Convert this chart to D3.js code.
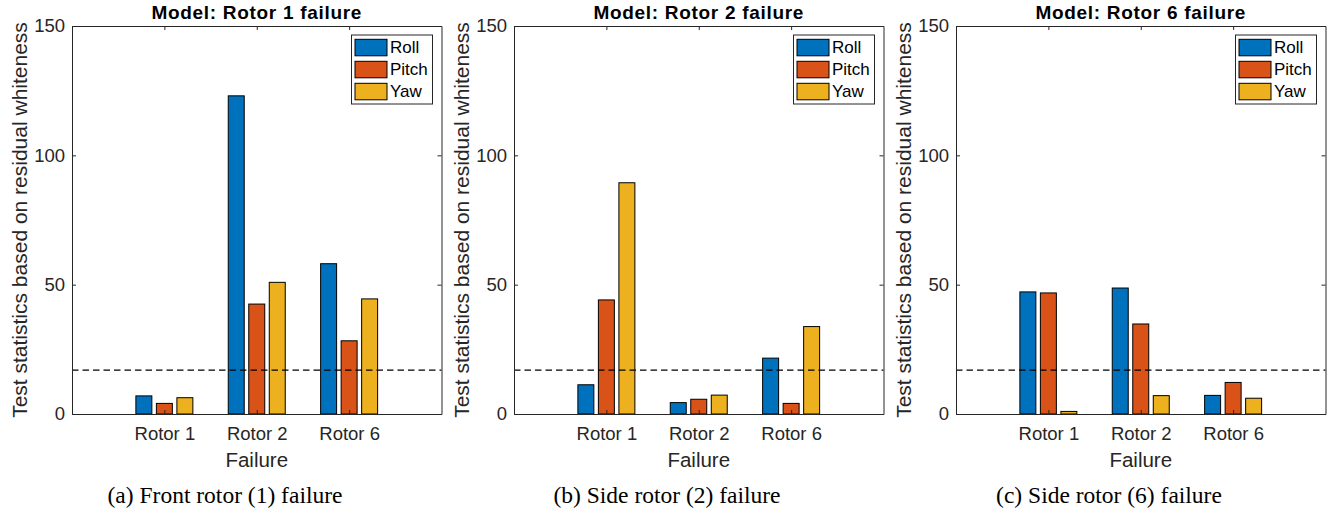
<!DOCTYPE html>
<html>
<head>
<meta charset="utf-8">
<script src="https://cdn.jsdelivr.net/npm/d3@7"></script>
<style>
  html, body { margin: 0; padding: 0; background: #fff; }
  svg { display: block; }
</style>
</head>
<body>
<svg id="fig" width="1337" height="513"></svg>
<script>
// Failure cases on the x axis and the three test channels
const categories = ["Rotor 1", "Rotor 2", "Rotor 6"];
const seriesNames = ["Roll", "Pitch", "Yaw"];
const seriesColors = ["#0072BD", "#D95319", "#EDB120"];

// Test statistics per model: rows = failure case, columns = Roll, Pitch, Yaw
const rotor1Model = [[7.0, 4.1, 6.3], [123.0, 42.5, 50.9], [58.1, 28.3, 44.5]];
const rotor2Model = [[11.3, 44.1, 89.4], [4.4, 5.7, 7.3], [21.6, 4.1, 33.8]];
const rotor6Model = [[47.2, 46.8, 1.0], [48.7, 34.8, 7.1], [7.2, 12.2, 6.1]];

const panelTitles = ["Model: Rotor 1 failure", "Model: Rotor 2 failure", "Model: Rotor 6 failure"];
const captions = ["(a) Front rotor (1) failure", "(b) Side rotor (2) failure", "(c) Side rotor (6) failure"];
const yTicks = [0, 50, 100, 150];
const threshold = 17.0;

const panels = [rotor1Model, rotor2Model, rotor6Model];

const svg = d3.select("#fig");
const axisColor = "#262626";
const sans = "'Liberation Sans', Arial, Helvetica, sans-serif";
const serif = "'Liberation Serif', 'Times New Roman', serif";

const plotLefts = [72, 514, 956];
const plotW = 369.5;
const plotTop = 26, plotBottom = 414;
const captionCenters = [225, 667, 1109];

const barOffsets = [-0.222, 0, 0.222];
const barWidthUnits = 0.173;

panels.forEach((data, p) => {
  const left = plotLefts[p];
  const x = d3.scaleLinear().domain([0, 4]).range([0, plotW]);
  const y = d3.scaleLinear().domain([0, 150]).range([plotBottom - plotTop, 0]);
  const h = plotBottom - plotTop;

  const g = svg.append("g").attr("transform", `translate(${left},${plotTop})`);

  // bars, one series at a time
  seriesNames.forEach((s, si) => {
    g.append("g").selectAll("rect")
      .data(data.map((row, ci) => ({ c: ci + 1, v: row[si] })))
      .join("rect")
      .attr("x", d => x(d.c + barOffsets[si] - barWidthUnits / 2))
      .attr("width", x(barWidthUnits) - x(0))
      .attr("y", d => y(d.v))
      .attr("height", d => y(0) - y(d.v))
      .attr("fill", seriesColors[si])
      .attr("stroke", "#000")
      .attr("stroke-width", 1);
  });

  // threshold line
  g.append("line")
    .attr("x1", 0).attr("x2", plotW)
    .attr("y1", y(threshold)).attr("y2", y(threshold))
    .attr("stroke", "#000")
    .attr("stroke-width", 1.3)
    .attr("stroke-dasharray", "6.5,4");

  // axes with inward ticks on all four sides
  const styleAxis = sel => {
    sel.select(".domain").attr("stroke", axisColor).attr("stroke-width", 1);
    sel.selectAll(".tick line").attr("stroke", axisColor);
    sel.selectAll(".tick text").attr("fill", axisColor).attr("font-family", sans);
  };

  g.append("g")
    .call(d3.axisLeft(y).tickValues(yTicks).tickSize(-4).tickSizeOuter(0).tickPadding(7))
    .call(styleAxis)
    .selectAll(".tick text").attr("font-size", 18.5);

  g.append("g").attr("transform", `translate(${plotW},0)`)
    .call(d3.axisRight(y).tickValues(yTicks).tickSize(-4).tickSizeOuter(0).tickFormat(""))
    .call(styleAxis);

  g.append("g").attr("transform", `translate(0,${h})`)
    .call(d3.axisBottom(x).tickValues([1, 2, 3]).tickSize(-4).tickSizeOuter(0).tickPadding(13)
      .tickFormat(d => categories[d - 1]))
    .call(styleAxis)
    .selectAll(".tick text").attr("font-size", 18.5);

  g.append("g")
    .call(d3.axisTop(x).tickValues([1, 2, 3]).tickSize(-4).tickSizeOuter(0).tickFormat(""))
    .call(styleAxis);

  // title
  g.append("text")
    .attr("x", plotW / 2).attr("y", -7.5)
    .attr("text-anchor", "middle")
    .attr("font-family", sans).attr("font-weight", "bold").attr("font-size", 19)
    .attr("letter-spacing", 0.7)
    .attr("fill", "#000")
    .text(panelTitles[p]);

  // axis labels
  g.append("text")
    .attr("x", plotW / 2).attr("y", h + 53)
    .attr("text-anchor", "middle")
    .attr("font-family", sans).attr("font-size", 20.5)
    .attr("fill", axisColor)
    .text("Failure");

  g.append("text")
    .attr("transform", `translate(-53,${h / 2}) rotate(-90)`)
    .attr("text-anchor", "middle")
    .attr("dominant-baseline", "central")
    .attr("font-family", sans).attr("font-size", 21)
    .attr("fill", axisColor)
    .text("Test statistics based on residual whiteness");

  // legend
  const legW = 81, legH = 69;
  const leg = g.append("g").attr("transform", `translate(${plotW - 9 - legW},9)`);
  leg.append("rect")
    .attr("width", legW).attr("height", legH)
    .attr("fill", "#fff").attr("stroke", axisColor).attr("stroke-width", 1);
  seriesNames.forEach((s, si) => {
    const row = leg.append("g").attr("transform", `translate(3.5,${4.3 + si * 22})`);
    row.append("rect")
      .attr("width", 32).attr("height", 16.5)
      .attr("fill", seriesColors[si]).attr("stroke", "#000").attr("stroke-width", 1);
    row.append("text")
      .attr("x", 35).attr("y", 8.5)
      .attr("dominant-baseline", "central")
      .attr("font-family", sans).attr("font-size", 17)
      .attr("fill", "#000")
      .text(s);
  });

  // sub-figure caption
  svg.append("text")
    .attr("x", captionCenters[p]).attr("y", 503)
    .attr("text-anchor", "middle")
    .attr("font-family", serif).attr("font-size", 23.5)
    .attr("fill", "#000")
    .text(captions[p]);
});
</script>
</body>
</html>
